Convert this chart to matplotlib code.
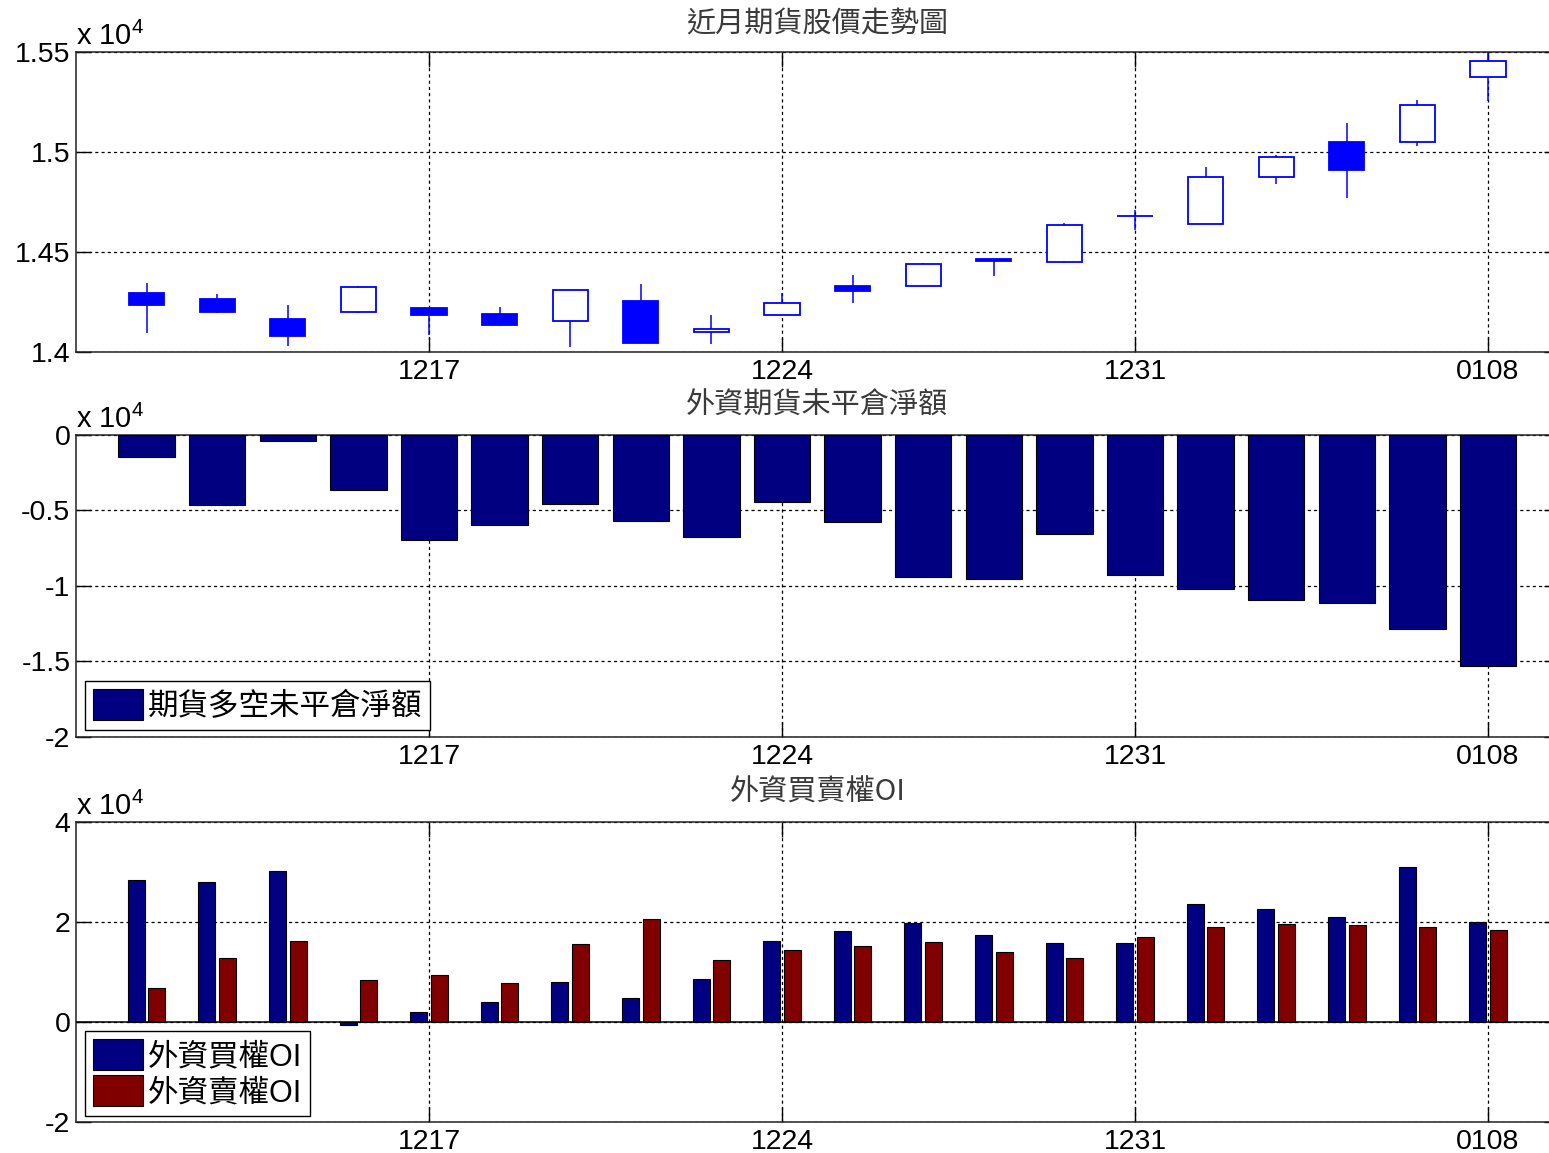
import matplotlib
matplotlib.use("Agg")
import matplotlib.pyplot as plt
from matplotlib.ticker import FuncFormatter, FixedLocator
import numpy as np

plt.rcParams['font.family'] = ['Liberation Sans', 'Noto Sans CJK TC', 'DejaVu Sans']

# ---------------- data ----------------
tick_pos = [5, 10, 15, 20]
tick_labels = ['1217', '1224', '1231', '0108']

days = list(range(1, 21))

opens  = [14295, 14265, 14167, 14200, 14222, 14190, 14157, 14258, 14100, 14188,
          14332, 14330, 14468, 14452, 14682, 14643, 14877, 15050, 15050, 15375]
highs  = [14345, 14290, 14235, 14332, 14222, 14228, 14313, 14340, 14187, 14295,
          14387, 14448, 14468, 14645, 14712, 14928, 14985, 15145, 15262, 15510]
lows   = [14095, 14195, 14033, 14195, 14085, 14130, 14028, 14045, 14040, 14188,
          14248, 14330, 14383, 14445, 14612, 14643, 14840, 14770, 15032, 15257]
closes = [14237, 14200, 14082, 14325, 14187, 14138, 14313, 14045, 14117, 14245,
          14307, 14442, 14458, 14638, 14682, 14878, 14978, 14913, 15235, 15457]

fut_net = [-1464, -4659, -400, -3661, -6967, -5969, -4571, -5724, -6789, -4482,
           -5791, -9408, -9563, -6545, -9319, -10229, -10961, -11116, -12847, -15310]

call_oi = [28342, 28075, 30281, -602, 2005, 3944, 7888, 4679, 8623, 16176,
           18182, 19719, 17447, 15775, 15775, 23596, 22660, 20922, 31016, 19920]
put_oi  = [6818, 12767, 16176, 8289, 9291, 7821, 15508, 20655, 12299, 14439,
           15241, 15976, 14037, 12767, 16979, 18984, 19652, 19385, 18984, 18449]

titles = ['近月期貨股價走勢圖', '外資期貨未平倉淨額', '外資買賣權OI']
legend_fut = ['期貨多空未平倉淨額']
legend_oi = ['外資買權OI', '外資賣權OI']

# ---------------- figure ----------------
W, H = 1549, 1153
fig = plt.figure(figsize=(W / 100, H / 100), dpi=100)

left = 76 / W
width = 1482.6 / W

def axes_px(top, bottom):
    return fig.add_axes([left, 1 - bottom / H, width, (bottom - top) / H])

ax1 = axes_px(52.3, 352.3)
ax2 = axes_px(434.7, 736.7)
ax3 = axes_px(822.0, 1121.7)

fmt = FuncFormatter(lambda v, p: '%g' % (v / 1e4))
title_col = '#3a3a3a'
cjk = ['Noto Sans CJK TC', 'DejaVu Sans']

def style(ax, yticks, ylim, title):
    ax.set_xlim(0, 21)
    ax.set_ylim(*ylim)
    ax.xaxis.set_major_locator(FixedLocator(tick_pos))
    ax.set_xticklabels(tick_labels)
    ax.yaxis.set_major_locator(FixedLocator(yticks))
    ax.yaxis.set_major_formatter(fmt)
    ax.set_axisbelow(True)
    ax.grid(True, linestyle=(0, (2.5, 2.5)), color='black', linewidth=0.9)
    ax.tick_params(direction='in', length=11, width=1, top=True, right=True,
                   labelsize=20.5, colors='black')
    ax.tick_params(axis='x', pad=5)
    ax.tick_params(axis='y', pad=4)
    for s in ax.spines.values():
        s.set_linewidth(1.1)
        s.set_color('#222222')
    ax.set_title(title, fontsize=21, color=title_col, family=cjk, pad=15)
    ax.annotate(r'x 10$^{\mathregular{4}}$', xy=(0, 1), xycoords='axes fraction',
                xytext=(0, 5), textcoords='offset points', ha='left',
                va='baseline', fontsize=21)

# ---- top: candlesticks ----
style(ax1, [14000, 14500, 15000, 15500], (14000, 15500), titles[0])
ax1.vlines(days, lows, highs, color='#0000ff', linewidth=1.1, zorder=2, clip_on=True)
body_bottom = [min(o, c) for o, c in zip(opens, closes)]
body_h = [abs(c - o) for o, c in zip(opens, closes)]
face = ['#0000ff' if c < o else 'white' for o, c in zip(opens, closes)]
ax1.bar(days, body_h, bottom=body_bottom, width=0.5, color=face,
        edgecolor='#0000ff', linewidth=1.3, zorder=3)

# ---- middle: futures net OI ----
style(ax2, [-20000, -15000, -10000, -5000, 0], (-20000, 0), titles[1])
b = ax2.bar(days, fut_net, width=0.8, color='#000080', edgecolor='black',
            linewidth=0.8, zorder=3, label=legend_fut[0])
leg = ax2.legend(handles=[b], labels=legend_fut, loc='lower left',
                 bbox_to_anchor=(9 / 1482.6, 7 / 302), borderaxespad=0,
                 prop={'family': cjk, 'size': 22}, handlelength=1.65,
                 handleheight=1.2, handletextpad=0.15, borderpad=0.25,
                 fancybox=False, framealpha=1, edgecolor='black')
leg.get_frame().set_linewidth(1.0)

# ---- bottom: call / put OI ----
style(ax3, [-20000, 0, 20000, 40000], (-20000, 40000), titles[2])
xd = np.array(days, dtype=float)
b1 = ax3.bar(xd - 0.145, call_oi, width=0.24, color='#000080', edgecolor='black',
             linewidth=0.8, zorder=3)
b2 = ax3.bar(xd + 0.145, put_oi, width=0.24, color='#800000', edgecolor='black',
             linewidth=0.8, zorder=3)
ax3.axhline(0, color='black', linewidth=1.1, zorder=4)
leg3 = ax3.legend(handles=[b1, b2], labels=legend_oi, loc='lower left',
                  bbox_to_anchor=(9 / 1482.6, 6 / 300), borderaxespad=0,
                  prop={'family': ['Liberation Sans', 'Noto Sans CJK TC'], 'size': 22},
                  handlelength=1.65, handleheight=1.2, handletextpad=0.15,
                  borderpad=0.25, labelspacing=0.1,
                  fancybox=False, framealpha=1, edgecolor='black')
leg3.get_frame().set_linewidth(1.0)

fig.savefig('out.png', dpi=100)
